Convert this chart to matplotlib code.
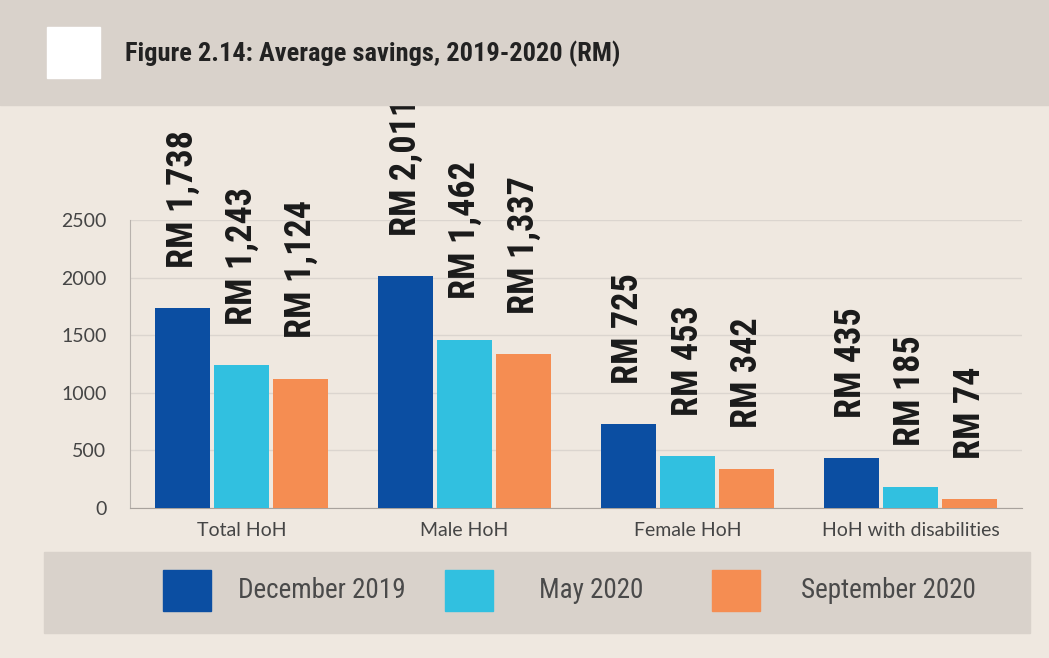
import matplotlib.pyplot as plt
from matplotlib.patches import Rectangle
import numpy as np

categories = ["Total HoH", "Male HoH", "Female HoH", "HoH with disabilities"]
series_names = ["December 2019", "May 2020", "September 2020"]
dec_2019 = [1738, 2011, 725, 435]
may_2020 = [1243, 1462, 453, 185]
sep_2020 = [1124, 1337, 342, 74]
values = [dec_2019, may_2020, sep_2020]
colors = ["#0b4ea2", "#31c0e0", "#f58d52"]

bg = "#efe8e0"
band = "#d9d2cb"

narrow = ["Roboto Condensed", "DejaVu Sans"]
body = ["Lato", "DejaVu Sans"]

fig = plt.figure(figsize=(10.49, 6.58), dpi=100)
fig.patch.set_facecolor(bg)

W, H = 1049, 658
def fx(px):
    return px / W
def fy(py):
    return 1 - py / H

# header band, white square and title
fig.patches.append(Rectangle((0, fy(105)), 1, 105 / H, transform=fig.transFigure,
                             color=band, zorder=0))
fig.patches.append(Rectangle((fx(47), fy(78)), 53 / W, 51 / H, transform=fig.transFigure,
                             color="white", zorder=1))
fig.text(fx(125), fy(54), "Figure 2.14: Average savings, 2019-2020 (RM)",
         fontfamily=narrow, fontweight="bold", fontsize=19, color="#222222",
         va="center", ha="left")

ax = fig.add_axes([fx(130), fy(508), fx(1022) - fx(130), (508 - 220) / H])
ax.set_facecolor(bg)

x = np.arange(len(categories))
width = 0.247
step = 0.265
for i, (vals, col) in enumerate(zip(values, colors)):
    pos = x + (i - 1) * step
    ax.bar(pos, vals, width=width, color=col, zorder=3)
    for p, v in zip(pos, vals):
        ax.annotate("RM {:,}".format(v), (p, v), xytext=(0, 29), textcoords="offset points",
                    rotation=90, ha="center", va="bottom", fontsize=26,
                    fontfamily=narrow, fontweight="bold", color="#1a1a1a",
                    annotation_clip=False)

ax.set_xlim(-0.5, 3.5)
ax.set_ylim(0, 2500)
ax.set_yticks([0, 500, 1000, 1500, 2000, 2500])
ax.set_xticks(x)
ax.set_xticklabels(categories)
ax.grid(axis="y", color="#dbd5cf", linewidth=1, zorder=0)
for s in ["top", "right"]:
    ax.spines[s].set_visible(False)
ax.spines["left"].set_color("#b8b2ad")
ax.spines["bottom"].set_color("#a8a29d")
ax.tick_params(length=0, colors="#454545", labelsize=14)
ax.tick_params(axis="y", pad=17)
ax.tick_params(axis="x", pad=10)
for lab in ax.get_xticklabels() + ax.get_yticklabels():
    lab.set_fontfamily(body)

# legend box
fig.patches.append(Rectangle((fx(44), fy(633)), (1030 - 44) / W, (633 - 552) / H,
                             transform=fig.transFigure, color=band, zorder=0))
leg_x = [163, 445, 712]
txt_x = [238, 539, 801]
for lx, tx, col, name in zip(leg_x, txt_x, colors, series_names):
    fig.patches.append(Rectangle((fx(lx), fy(611)), 48 / W, 41 / H,
                                 transform=fig.transFigure, color=col, zorder=2))
    fig.text(fx(tx), fy(590), name, fontfamily=narrow, fontsize=19.5,
             color="#4a4a4a", va="center", ha="left")

fig.savefig("out.png", dpi=100, facecolor=bg)
